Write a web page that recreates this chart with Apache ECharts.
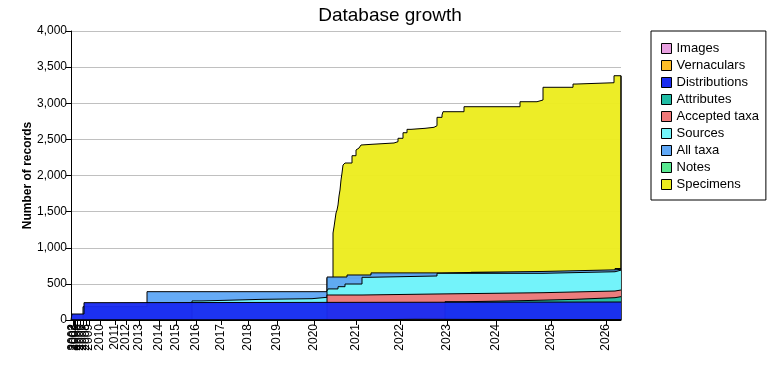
<!DOCTYPE html>
<html><head><meta charset="utf-8">
<script src="https://cdn.jsdelivr.net/npm/echarts@6/dist/echarts.min.js"></script>
<style>html,body{margin:0;padding:0;background:#fff}#c{width:780px;height:380px}</style>
</head><body><div id="c"></div>
<script>
// x = update-event number (0..550); year labels at first event of each year
const eventCount = 551;
const yearLabels = ['2001','2002','2003','2004','2005','2006','2007','2008','2009','2010','2011','2012','2013','2014','2015','2016','2017','2018','2019','2020','2021','2022','2023','2024','2025','2026'];
const yearFirstEvent = [1,2,3,4,6,9,12,15,18,29,44,55,68,88,105,125,150,177,206,243,285,329,376,425,480,535];

const legendOrder = ['Images','Vernaculars','Distributions','Attributes','Accepted taxa','Sources','All taxa','Notes','Specimens'];
const colors = {
  'Images':'#E8A0E0','Vernaculars':'#FFBE28','Distributions':'#1A2CF0','Attributes':'#20BCA4',
  'Accepted taxa':'#F07878','Sources':'#74F6FA','All taxa':'#60A8F6','Notes':'#58E890','Specimens':'#ECEC1E'
};

// [event, records] change points
const specimens = [[0,0],[262,1204],[263,1287],[264,1384],[265,1481],[266,1522],[267,1592],[268,1716],[269,1799],[270,1938],[271,2034],[272,2145],[274,2173],[281,2274],[285,2353],[286,2380],[288,2401],[290,2422],[292,2432],[301,2450],[323,2468],[327,2515],[332,2592],[336,2639],[340,2653],[354,2667],[363,2689],[366,2805],[371,2837],[372,2883],[393,2952],[449,3021],[466,3045],[472,3221],[502,3266],[505,3284],[543,3381],[550,3381]];
const notes = [[0,0],[256,580],[300,630],[400,660],[544,712],[550,712]];
const allTaxa = [[0,0],[12,184],[76,392],[256,595],[276,623],[300,652],[370,672],[472,694],[544,702],[550,702]];
const sources = [[0,0],[121,264],[131,286],[191,295],[241,314],[256,400],[257,430],[267,461],[274,498],[291,591],[298,609],[366,646],[472,668],[544,690],[550,690]];
const acceptedTaxa = [[0,0],[256,346],[291,360],[366,378],[472,401],[544,415],[550,415]];
const attributes = [[0,0],[374,253],[394,267],[449,286],[504,309],[544,323],[550,323]];
const distributions = [[0,0],[1,83],[13,240],[38,249],[550,249]];
const vernaculars = [[0,0],[272,10],[344,3],[550,3]];
const images = [[0,0],[152,4],[550,4]];

const seriesData = {
  'Specimens':specimens,'Notes':notes,'All taxa':allTaxa,'Sources':sources,'Accepted taxa':acceptedTaxa,
  'Attributes':attributes,'Distributions':distributions,'Vernaculars':vernaculars,'Images':images
};
const drawOrder = legendOrder.slice().reverse();

const categories = [];
for (let i = 0; i < eventCount; i++) {
  const k = yearFirstEvent.indexOf(i);
  categories.push(k >= 0 ? yearLabels[k] : '');
}
const showYear = (idx, val) => val !== '';
const FONT = 'Liberation Sans, Arial, sans-serif';
const lastSpec = specimens[specimens.length - 1];

const chart = echarts.init(document.getElementById('c'), null, {renderer:'canvas'});
chart.setOption({
  animation:false,
  textStyle:{fontFamily:FONT},
  title:{text:'Database growth',left:'center',top:1,textStyle:{fontSize:19,fontWeight:'normal',color:'#000',fontFamily:FONT}},
  legend:{
    orient:'vertical',left:651,top:31,data:legendOrder,icon:'rect',itemWidth:10,itemHeight:10,itemGap:4,
    padding:[11,7,9,10],borderColor:'#000',borderWidth:1,borderRadius:0,
    itemStyle:{borderColor:'#000',borderWidth:1},
    textStyle:{fontSize:13,color:'#000',fontFamily:FONT}
  },
  grid:{left:71,right:159,top:31,bottom:60,containLabel:false},
  xAxis:{
    type:'category',data:categories,boundaryGap:false,
    axisLine:{lineStyle:{color:'#000',width:1}},
    axisTick:{interval:showYear,length:5,lineStyle:{color:'#000'}},
    axisLabel:{interval:showYear,rotate:90,fontSize:12,color:'#000',margin:4,fontFamily:FONT},
    splitLine:{show:false}
  },
  yAxis:{
    type:'value',min:0,max:4000,interval:500,
    name:'Number of records',nameLocation:'middle',nameGap:37,nameMoveOverlap:false,
    nameTextStyle:{fontSize:12,fontWeight:'bold',color:'#000',fontFamily:FONT},
    axisLine:{show:true,lineStyle:{color:'#000'}},
    axisTick:{show:true,length:5,lineStyle:{color:'#000'}},
    axisLabel:{fontSize:12,color:'#000',margin:4,formatter:v=>v.toLocaleString('en-US'),fontFamily:FONT},
    splitLine:{lineStyle:{color:'#C0C0C0'}}
  },
  series: drawOrder.map((name, i) => {
    const s = {
      name, type:'line', step:'end', data:seriesData[name], showSymbol:false, symbol:'none',
      z: 2 + i,
      itemStyle:{color:colors[name]},
      lineStyle:{color:'#000',width:1},
      areaStyle:{color:colors[name],opacity:0.96},
      emphasis:{disabled:true}
    };
    if (name === 'Images') {
      s.markLine = {
        silent:true, symbol:'none', label:{show:false},
        lineStyle:{color:'#000',width:1.5,type:'solid'},
        data:[[{coord:[lastSpec[0],0]},{coord:[lastSpec[0],lastSpec[1]]}]]
      };
    }
    return s;
  })
});
</script></body></html>
